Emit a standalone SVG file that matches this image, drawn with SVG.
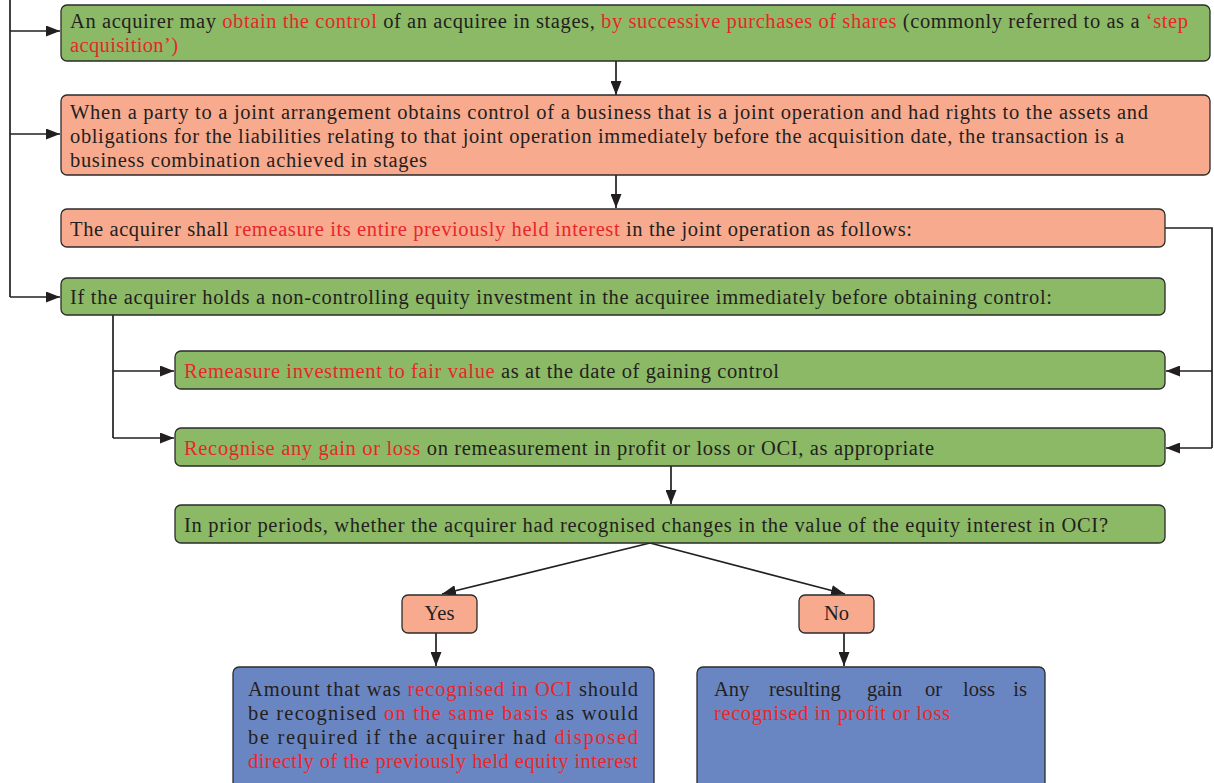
<svg xmlns="http://www.w3.org/2000/svg" width="1214" height="783" viewBox="0 0 1214 783">
<style>
.box{stroke:#2b2b2b;stroke-width:1.3}
.g{fill:#8cb966}
.s{fill:#f8aa8e}
.b{fill:#6a86c2}
.t{font-family:"Liberation Serif","Times New Roman",serif;font-size:20.5px;fill:#231f20}
.r{fill:#e8262b}
.c{fill:none;stroke:#231f20;stroke-width:1.7}
</style>
<defs>
<marker id="ah" viewBox="0 0 14 11" refX="14" refY="5.5" markerWidth="14" markerHeight="11" markerUnits="userSpaceOnUse" orient="auto">
<path d="M0,0 L14,5.5 L0,11 Z" fill="#231f20"/>
</marker>
</defs>
<g id="connectors">
<path class="c" d="M10,0 V297"/>
<path class="c" d="M10,31 H60" marker-end="url(#ah)"/>
<path class="c" d="M10,134 H60" marker-end="url(#ah)"/>
<path class="c" d="M10,297 H60" marker-end="url(#ah)"/>
<path class="c" d="M616,61 V95" marker-end="url(#ah)"/>
<path class="c" d="M616,175 V208" marker-end="url(#ah)"/>
<path class="c" d="M1165,228 H1212 V448"/>
<path class="c" d="M1212,371 H1166" marker-end="url(#ah)"/>
<path class="c" d="M1212,448 H1166" marker-end="url(#ah)"/>
<path class="c" d="M113,315 V438"/>
<path class="c" d="M113,371 H174" marker-end="url(#ah)"/>
<path class="c" d="M113,438 H174" marker-end="url(#ah)"/>
<path class="c" d="M671,465 V504" marker-end="url(#ah)"/>
<path class="c" d="M650,543 L442,594" marker-end="url(#ah)"/>
<path class="c" d="M650,543 L845,594" marker-end="url(#ah)"/>
<path class="c" d="M436,633 V666" marker-end="url(#ah)"/>
<path class="c" d="M844,633 V666" marker-end="url(#ah)"/>
</g>
<g id="n1">
<rect class="box g" x="61" y="5" width="1149" height="56" rx="6"/>
<text class="t" x="70" y="28" textLength="1118" lengthAdjust="spacing">An acquirer may <tspan class="r">obtain the control</tspan> of an acquiree in stages, <tspan class="r">by successive purchases of shares</tspan> (commonly referred to as a <tspan class="r">‘step</tspan></text>
<text class="t r" x="70" y="52" textLength="108" lengthAdjust="spacing">acquisition’)</text>
</g>
<g id="n2">
<rect class="box s" x="61" y="95" width="1149" height="80" rx="6"/>
<text class="t" x="70" y="119" textLength="1078" lengthAdjust="spacing">When a party to a joint arrangement obtains control of a business that is a joint operation and had rights to the assets and</text>
<text class="t" x="70" y="143" textLength="1054" lengthAdjust="spacing">obligations for the liabilities relating to that joint operation immediately before the acquisition date, the transaction is a</text>
<text class="t" x="70" y="167" textLength="357" lengthAdjust="spacing">business combination achieved in stages</text>
</g>
<g id="n3">
<rect class="box s" x="61" y="209" width="1104" height="38" rx="6"/>
<text class="t" x="70" y="236" textLength="842" lengthAdjust="spacing">The acquirer shall <tspan class="r">remeasure its entire previously held interest</tspan> in the joint operation as follows:</text>
</g>
<g id="n4">
<rect class="box g" x="61" y="278" width="1104" height="37" rx="6"/>
<text class="t" x="70" y="304" textLength="982" lengthAdjust="spacing">If the acquirer holds a non-controlling equity investment in the acquiree immediately before obtaining control:</text>
</g>
<g id="n5">
<rect class="box g" x="175" y="351" width="990" height="38" rx="6"/>
<text class="t" x="184" y="378" textLength="595" lengthAdjust="spacing"><tspan class="r">Remeasure investment to fair value</tspan> as at the date of gaining control</text>
</g>
<g id="n6">
<rect class="box g" x="175" y="428" width="990" height="38" rx="6"/>
<text class="t" x="184" y="455" textLength="750" lengthAdjust="spacing"><tspan class="r">Recognise any gain or loss</tspan> on remeasurement in profit or loss or OCI, as appropriate</text>
</g>
<g id="n7">
<rect class="box g" x="175" y="505" width="990" height="38" rx="6"/>
<text class="t" x="184" y="532" textLength="924" lengthAdjust="spacing">In prior periods, whether the acquirer had recognised changes in the value of the equity interest in OCI?</text>
</g>
<g id="yes">
<rect class="box s" x="402" y="595" width="75" height="38" rx="6"/>
<text class="t" x="439.5" y="620" text-anchor="middle">Yes</text>
</g>
<g id="no">
<rect class="box s" x="799" y="595" width="75" height="38" rx="6"/>
<text class="t" x="836.5" y="620" text-anchor="middle">No</text>
</g>
<g id="b1">
<rect class="box b" x="233" y="667" width="421" height="130" rx="6"/>
<text class="t" x="248" y="696" textLength="390" lengthAdjust="spacing">Amount that was <tspan class="r">recognised in OCI</tspan> should</text>
<text class="t" x="248" y="720" textLength="390" lengthAdjust="spacing">be recognised <tspan class="r">on the same basis</tspan> as would</text>
<text class="t" x="248" y="744" textLength="390" lengthAdjust="spacing">be required if the acquirer had <tspan class="r">disposed</tspan></text>
<text class="t r" x="248" y="768" textLength="390" lengthAdjust="spacing">directly of the previously held equity interest</text>
</g>
<g id="b2">
<rect class="box b" x="697" y="667" width="348" height="130" rx="6"/>
<text class="t" x="714" y="696">Any</text>
<text class="t" x="769" y="696">resulting</text>
<text class="t" x="867" y="696">gain</text>
<text class="t" x="925" y="696">or</text>
<text class="t" x="963" y="696">loss</text>
<text class="t" x="1027" y="696" text-anchor="end">is</text>
<text class="t r" x="714" y="720" textLength="236" lengthAdjust="spacing">recognised in profit or loss</text>
</g>
</svg>
